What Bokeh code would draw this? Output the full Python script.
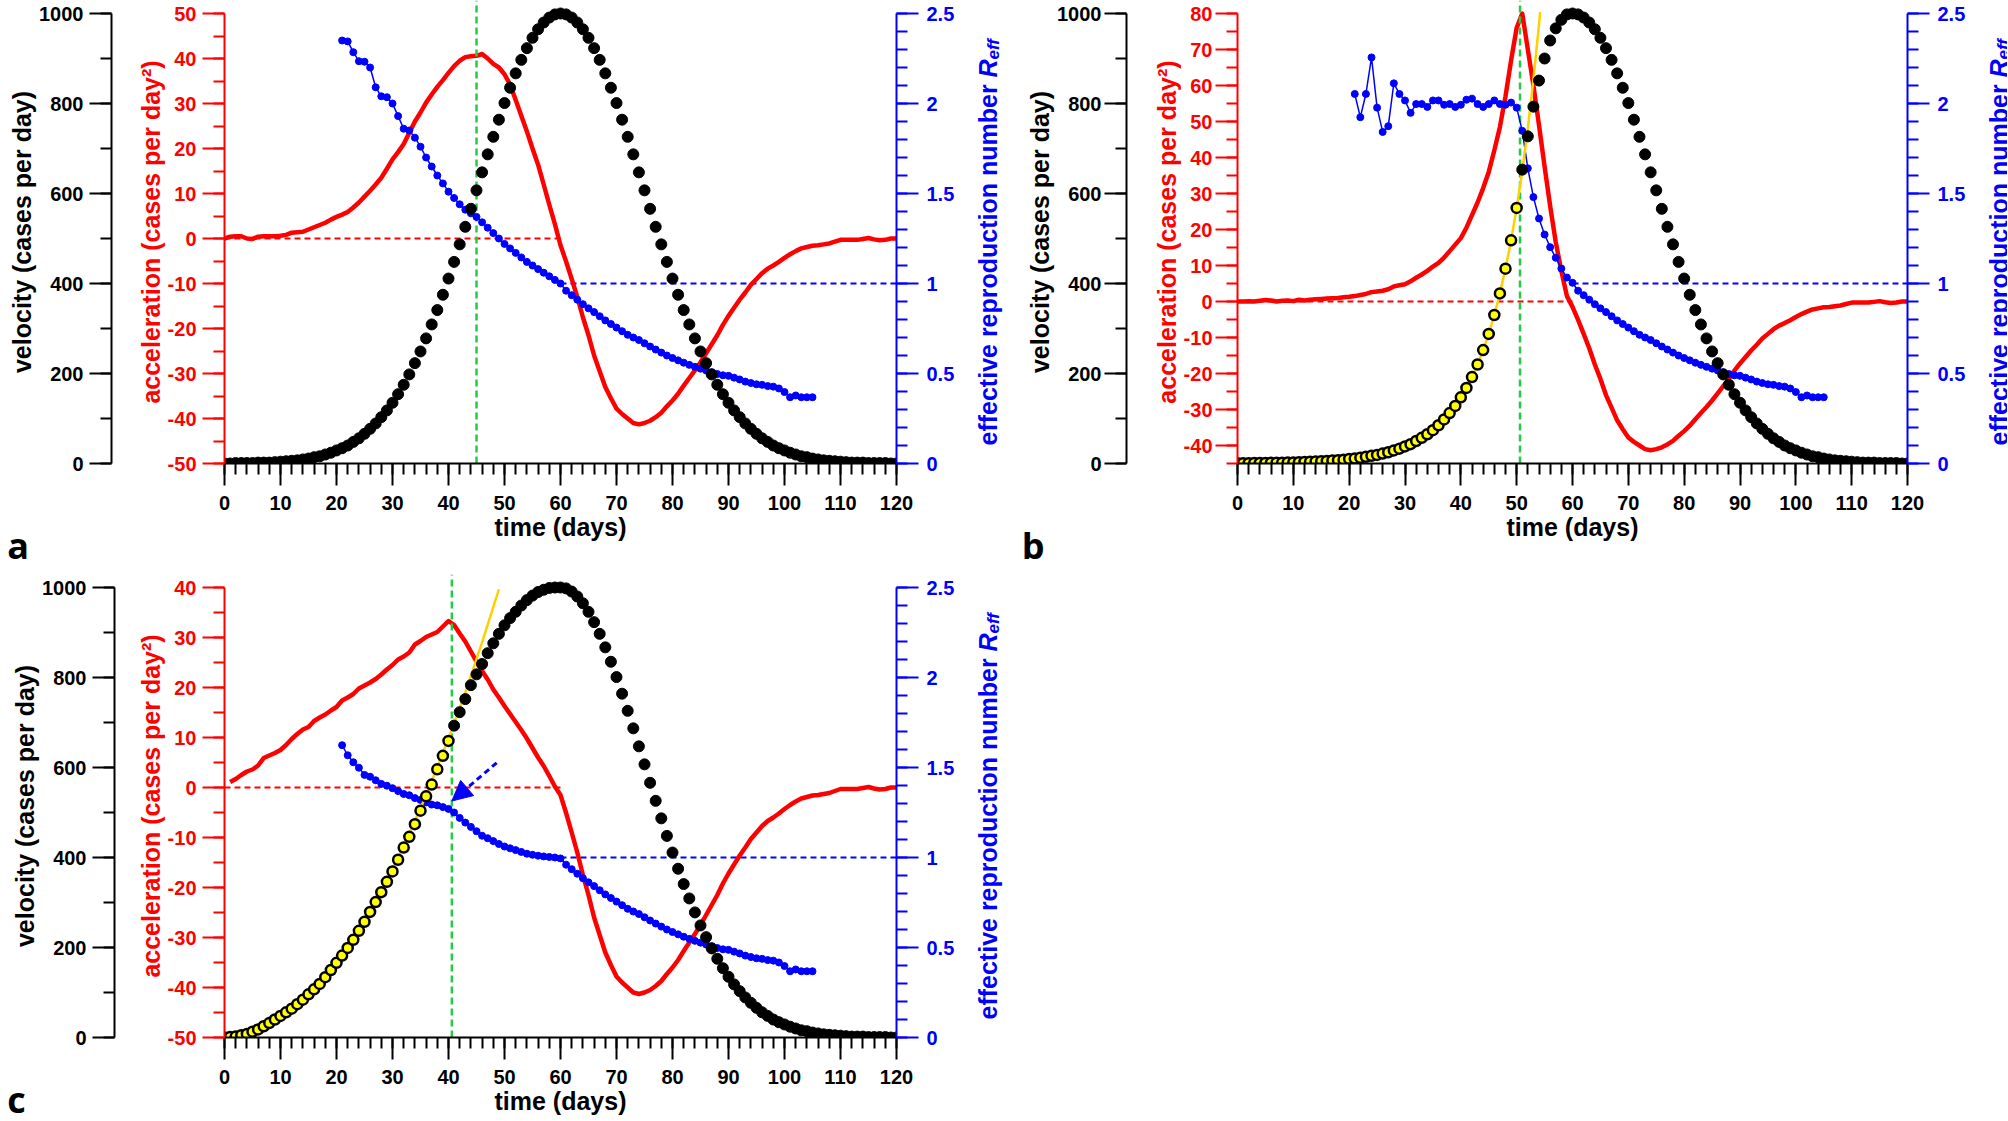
import math
from bokeh.plotting import figure
from bokeh.models import (Range1d, LinearAxis, SingleIntervalTicker,
                          CustomJSTickFormatter, Label, Arrow, NormalHead)
from bokeh.layouts import column, row
from bokeh.embed import file_html
from bokeh.resources import INLINE

# ---------------- data ----------------
days = list(range(0, 121))

# velocity (cases per day), days 0..59 for each panel
vel_rise_a = [0, 0, 1, 1, 1, 1, 2, 2, 2, 3,
              4, 5, 6, 7, 9, 11, 14, 16, 20, 24,
              29, 34, 40, 48, 56, 66, 77, 89, 103, 118,
              135, 154, 175, 198, 223, 249, 278, 309, 341, 375,
              411, 448, 487, 526, 566, 607, 647, 687, 726, 764,
              801, 835, 867, 897, 923, 946, 965, 980, 991, 998]
vel_rise_b = [0.6, 0.7, 0.8, 1.0, 1.1, 1.3, 1.5, 1.7, 1.9, 2.2,
              2.5, 2.9, 3.3, 3.8, 4.4, 5.0, 5.7, 6.6, 7.5, 8.6,
              10, 11, 13, 15, 17, 19, 22, 25, 29, 33,
              38, 43, 50, 57, 65, 74, 85, 98, 112, 128,
              147, 168, 192, 220, 252, 288, 330, 378, 433, 496,
              568, 653, 727, 793, 851, 900, 940, 967, 986, 998]
vel_rise_c = [0, 1, 2, 5, 8, 13, 18, 25, 32, 40,
              48, 56, 64, 74, 84, 96, 107, 119, 134, 150,
              166, 182, 199, 217, 237, 257, 279, 301, 323, 346,
              369, 395, 422, 446, 474, 504, 536, 562, 596, 626,
              659, 693, 723, 752, 783, 807, 830, 854, 876, 897,
              916, 932, 946, 960, 972, 982, 990, 995, 999, 1000]
# velocity, days 60..120 (same in all panels)
vel_fall = [1000, 998, 991, 980, 965, 946, 923, 897, 867, 835,
            801, 764, 726, 687, 647, 607, 566, 526, 487, 448,
            411, 375, 341, 309, 278, 249, 223, 198, 175, 154,
            135, 118, 103, 89, 77, 66, 56, 48, 40, 34,
            29, 24, 20, 16, 14, 11, 9, 7, 6, 5,
            4, 3, 2, 2, 2, 1, 1, 1, 1, 0, 0]

# acceleration (cases per day^2)
acc_rise_a = [0, 0.4, 0.5, 0.5, 0, -0.1, 0.4, 0.5, 0.5, 0.5,
              0.6, 0.8, 1.3, 1.4, 1.5, 2.0, 2.5, 3.0, 3.5, 4.2,
              4.8, 5.3, 5.9, 6.9, 8.0, 9.3, 10.6, 12.0, 13.5, 15.5,
              17.6, 19.2, 21.0, 23.5, 26.0, 28.0, 30.2, 32.0, 33.7, 35.2,
              36.8, 38.3, 39.5, 40.3, 40.5, 40.6, 41.0, 40.0, 38.8, 38.0,
              36.5, 34.2, 30.8, 27.3, 23.8, 20.0, 16.4, 12.0, 7.5, 3.2]
acc_rise_b = [0, 0, 0.1, 0, 0.2, 0.4, 0.3, 0, 0.2, 0.3,
              0.1, 0.5, 0.3, 0.5, 0.6, 0.7, 0.8, 0.9, 1.0, 1.2,
              1.3, 1.5, 1.8, 2.1, 2.6, 2.8, 3.0, 3.4, 4.2, 4.5,
              4.8, 5.6, 6.6, 7.5, 8.5, 9.7, 10.7, 12.2, 14.0, 15.8,
              17.6, 20.5, 24.0, 27.5, 31.5, 36.0, 42.0, 48.5, 57.0, 67.0,
              76.0, 80.0, 70.0, 60.0, 49.0, 37.5, 26.5, 16.5, 8.5, 1.5]
acc_rise_c = [1.1, 1.7, 2.5, 3.2, 3.6, 4.4, 5.9, 6.4, 6.9,
              7.5, 8.5, 9.7, 10.7, 11.6, 12.1, 13.3, 14.0, 14.6, 15.4,
              16.1, 17.4, 18.0, 18.7, 19.8, 20.4, 21.0, 21.7, 22.6, 23.6,
              24.5, 25.6, 26.2, 27.0, 28.6, 29.3, 30.1, 30.6, 31.1, 32.2,
              33.3, 32.5, 30.8, 29.2, 27.2, 25.2, 23.3, 21.6, 19.6, 18.0,
              16.3, 14.7, 13.1, 11.5, 9.8, 7.9, 6.0, 4.3, 2.3, 0.2]
acc_fall = [-1.5, -5.1, -9.0, -13.0, -17.5, -21.5, -26.0, -29.5, -33.0, -35.5,
            -37.8, -39.0, -40.0, -41.0, -41.3, -41.0, -40.5, -39.7, -38.7, -37.3,
            -36.0, -34.5, -32.7, -31.0, -29.3, -27.5, -25.5, -23.5, -21.5, -19.2,
            -17.2, -15.4, -13.6, -12.0, -10.3, -9.0, -7.7, -6.7, -6.0, -5.2,
            -4.3, -3.5, -2.8, -2.2, -1.9, -1.6, -1.5, -1.3, -1.1, -0.7,
            -0.3, -0.3, -0.3, -0.3, -0.1, 0.1, -0.2, -0.4, -0.3, 0.0, 0.0]

# effective reproduction number, days 21..60 per panel, 61..105 shared
reff_rise_a = [2.35, 2.345, 2.285, 2.235, 2.232, 2.20, 2.09, 2.04, 2.035, 2.00,
               1.93, 1.86, 1.85, 1.81, 1.76, 1.70, 1.65, 1.60, 1.556, 1.51,
               1.475, 1.44, 1.41, 1.39, 1.37, 1.34, 1.31, 1.28, 1.25, 1.22,
               1.195, 1.17, 1.145, 1.12, 1.10, 1.08, 1.06, 1.04, 1.02, 1.00]
reff_rise_b = [2.053, 1.924, 2.053, 2.256, 1.977, 1.842, 1.874, 2.112, 2.053, 2.017,
               1.948, 1.997, 1.997, 1.981, 2.017, 2.017, 1.993, 1.997, 1.981, 1.993,
               2.021, 2.027, 1.997, 1.981, 1.997, 2.017, 1.997, 1.993, 2.005, 1.977,
               1.848, 1.64, 1.48, 1.361, 1.272, 1.202, 1.143, 1.083, 1.033, 1.004]
reff_rise_c = [1.624, 1.568, 1.529, 1.499, 1.459, 1.449, 1.429, 1.409, 1.399, 1.385,
               1.369, 1.353, 1.346, 1.33, 1.32, 1.306, 1.294, 1.29, 1.28, 1.27,
               1.25, 1.22, 1.194, 1.17, 1.146, 1.121, 1.107, 1.091, 1.075, 1.061,
               1.051, 1.041, 1.031, 1.021, 1.015, 1.01, 1.006, 1.003, 1.0, 0.995]
reff_fall = [0.96, 0.935, 0.91, 0.885, 0.862, 0.841, 0.818, 0.795, 0.775, 0.755,
             0.735, 0.715, 0.70, 0.686, 0.668, 0.65, 0.633, 0.616, 0.60, 0.586,
             0.573, 0.56, 0.548, 0.537, 0.527, 0.517, 0.507, 0.497, 0.49, 0.487,
             0.477, 0.467, 0.455, 0.447, 0.44, 0.437, 0.43, 0.427, 0.417, 0.397,
             0.368, 0.378, 0.368, 0.368, 0.368]

# yellow fitted growth curves
fit_b_days = [0, 5, 10, 15, 20, 25, 30, 32, 34, 36, 38, 40, 41, 42, 43, 44, 45,
              46, 47, 48, 49, 50, 51, 52, 53, 54, 54.2]
fit_b_vel = [0.6, 1.3, 2.5, 5.0, 9.9, 19.5, 38, 50, 65, 85, 112, 147, 168, 192,
             220, 252, 288, 330, 378, 433, 496, 568, 650, 745, 853, 976, 1003]
fit_c_days = [0, 4, 8, 12, 16, 20, 24, 28, 32, 36, 40, 43, 46, 49]
fit_c_vel = [0, 6.6, 26.6, 59.8, 106, 166, 239, 325, 425, 538, 664, 767, 878, 996]

# marker dates and number of yellow (fitted) points
green_day = {"a": 45, "b": 50.6, "c": 40.6}
n_fitted = {"a": 0, "b": 51, "c": 41}
acc_limits = {"a": (-50, 50), "b": (-45, 80), "c": (-50, 40)}
arrow_c = (48.6, 1.526, 40.6, 1.314)

# ---------------- styling / layout ----------------
FONT = "Liberation Sans"
FRAME_W = 674
FRAME_H = 463
TICK_SPAN = 450                      # pixels between bottom and top tick
EXT = FRAME_H / TICK_SPAN
PX_R = TICK_SPAN / 2.5               # pixels per unit of R_eff
PX_DAY = FRAME_W / 120.0
RED, BLUE, GREEN, YELLOW, GOLD = "#ff0000", "#0000ff", "#22cc44", "#ffff00", "#ffd000"
fmt = CustomJSTickFormatter(code="return String(Math.round(tick*10)/10);")


def style_axis(ax, color, tick_out=22, minor_out=11):
    ax.axis_line_color = color
    ax.axis_line_width = 2
    ax.major_tick_line_color = color
    ax.major_tick_line_width = 2
    ax.minor_tick_line_color = color
    ax.minor_tick_line_width = 2
    ax.major_tick_in = 0
    ax.major_tick_out = tick_out
    ax.minor_tick_in = 0
    ax.minor_tick_out = minor_out
    ax.major_label_text_color = color
    ax.major_label_text_font = FONT
    ax.major_label_text_font_style = "bold"
    ax.major_label_text_font_size = "20px"
    ax.axis_label_text_color = color
    ax.axis_label_text_font = FONT
    ax.axis_label_text_font_style = "bold"
    ax.axis_label_text_font_size = "25px"
    ax.formatter = fmt


def text_label(text, x, y, size, style, color, font=FONT, angle=0.0):
    return Label(x=x, y=y, x_units="data", y_units="data", y_range_name="reff",
                 text=text, angle=angle, text_align="left",
                 text_baseline="alphabetic", text_color=color, text_font=font,
                 text_font_style=style, text_font_size=size)


def make_panel(key, vel, acc_days, acc, reff, fit_days, fit_vel,
               left, right, top, bottom, r_side, eff_side, red_standoff,
               vel_standoff, letter_px, letter_drop):
    lo, hi = acc_limits[key]
    p = figure(width=left + FRAME_W + right, height=top + FRAME_H + bottom, title=None,
               x_range=Range1d(0, 120), y_range=Range1d(lo, lo + (hi - lo) * EXT),
               output_backend="svg", toolbar_location=None,
               min_border_left=left, min_border_right=right,
               min_border_top=top, min_border_bottom=bottom,
               background_fill_color="white", border_fill_color="white")
    p.outline_line_color = None
    p.xgrid.visible = False
    p.ygrid.visible = False
    p.extra_y_ranges = {"vel": Range1d(0, 1000 * EXT), "reff": Range1d(0, 2.5 * EXT)}

    # x axis
    xa = p.xaxis[0]
    style_axis(xa, "black")
    xa.ticker = SingleIntervalTicker(interval=10, num_minor_ticks=5)
    xa.axis_label = "time (days)"
    xa.major_label_standoff = 10
    xa.axis_label_standoff = 0

    # acceleration axis (red, next to frame)
    ra = p.yaxis[0]
    style_axis(ra, RED)
    ra.ticker = SingleIntervalTicker(interval=10, num_minor_ticks=2)
    ra.bounds = (lo, hi)
    ra.axis_label = "acceleration (cases per day²)"
    ra.major_label_standoff = red_standoff
    ra.axis_label_standoff = 0

    # panel letter (its side panel also spaces the two left axes)
    p.add_layout(text_label(key, -(left - letter_px) / PX_DAY, -letter_drop / PX_R,
                            "36px", "bold", "black", font="Open Sans"), "left")

    # velocity axis (black, outer)
    va = LinearAxis(y_range_name="vel",
                    ticker=SingleIntervalTicker(interval=200, num_minor_ticks=2))
    style_axis(va, "black")
    va.bounds = (0, 1000)
    va.axis_label = "velocity (cases per day)"
    va.major_label_standoff = vel_standoff
    va.axis_label_standoff = 0
    p.add_layout(va, "left")

    # reproduction number axis (blue, right)
    ba = LinearAxis(y_range_name="reff",
                    ticker=SingleIntervalTicker(interval=0.5, num_minor_ticks=5))
    style_axis(ba, BLUE, tick_out=22, minor_out=11)
    ba.bounds = (0, 2.5)
    ba.major_label_standoff = 8
    p.add_layout(ba, "right")

    # right axis title: effective reproduction number R_eff
    bx = 120 + 92 / PX_DAY
    p.add_layout(text_label("effective reproduction number", bx, 18 / PX_R, "25px",
                            "bold", BLUE, angle=math.pi / 2), "right")
    p.add_layout(text_label("R", bx, 386 / PX_R, "25px", "bold italic",
                            BLUE, angle=math.pi / 2), r_side)
    p.add_layout(text_label("eff", bx + 5 / PX_DAY, 404 / PX_R, "17px", "bold italic",
                            BLUE, angle=math.pi / 2), eff_side)

    # reference lines
    p.line([0, 60], [0, 0], line_color=RED, line_width=2, line_dash="6 4")
    p.line([60, 120], [1, 1], y_range_name="reff", line_color=BLUE, line_width=2,
           line_dash="6 4")
    # acceleration
    p.line(acc_days, acc, line_color=RED, line_width=4.5, line_join="round")
    # green marker
    g = green_day[key]
    p.line([g, g], [0, 1000 * EXT], y_range_name="vel", line_color=GREEN,
           line_width=2.5, line_dash="7 4")
    # reproduction number
    rdays = days[21:106]
    p.line(rdays, reff, y_range_name="reff", line_color=BLUE, line_width=1.5)
    p.scatter(rdays, reff, y_range_name="reff", size=7, color=BLUE)
    # fitted curve
    if fit_days:
        p.line(fit_days, fit_vel, y_range_name="vel", line_color=GOLD, line_width=2.5)
    # velocity dots
    n = n_fitted[key]
    p.scatter(days[n:], vel[n:], y_range_name="vel", size=11, color="black")
    if n:
        p.scatter(days[:n], vel[:n], y_range_name="vel", size=10,
                  fill_color=YELLOW, line_color="black", line_width=2.5)
    return p


vel_a = vel_rise_a + vel_fall
vel_b = vel_rise_b + vel_fall
vel_c = vel_rise_c + vel_fall
acc_a = acc_rise_a + acc_fall
acc_b = acc_rise_b + acc_fall
acc_c = acc_rise_c + acc_fall
reff_a = reff_rise_a + reff_fall
reff_b = reff_rise_b + reff_fall
reff_c = reff_rise_c + reff_fall

pa = make_panel("a", vel_a, days, acc_a, reff_a, None, None,
                224, 106, 0, 101, "below", "right", 6, 6, 6, 82)
pb = make_panel("b", vel_b, days, acc_b, reff_b, fit_b_days, fit_b_vel,
                229, 100, 0, 101, "below", "left", 3, 3, 12, 82)
pc = make_panel("c", vel_c, days[1:], acc_c, reff_c, fit_c_days, fit_c_vel,
                224, 134, 10, 83, "right", "right", 6, 6, 6, 62)
x0, y0, x1, y1 = arrow_c
pc.add_layout(Arrow(end=NormalHead(size=20, fill_color=BLUE, line_color=BLUE),
                    x_start=x0, y_start=y0, x_end=x1, y_end=y1,
                    y_range_name="reff", line_color=BLUE, line_width=3,
                    line_dash="6 4"))

layout = column(row(pa, pb), pc)
open("out.html", "w").write(file_html(layout, INLINE))
